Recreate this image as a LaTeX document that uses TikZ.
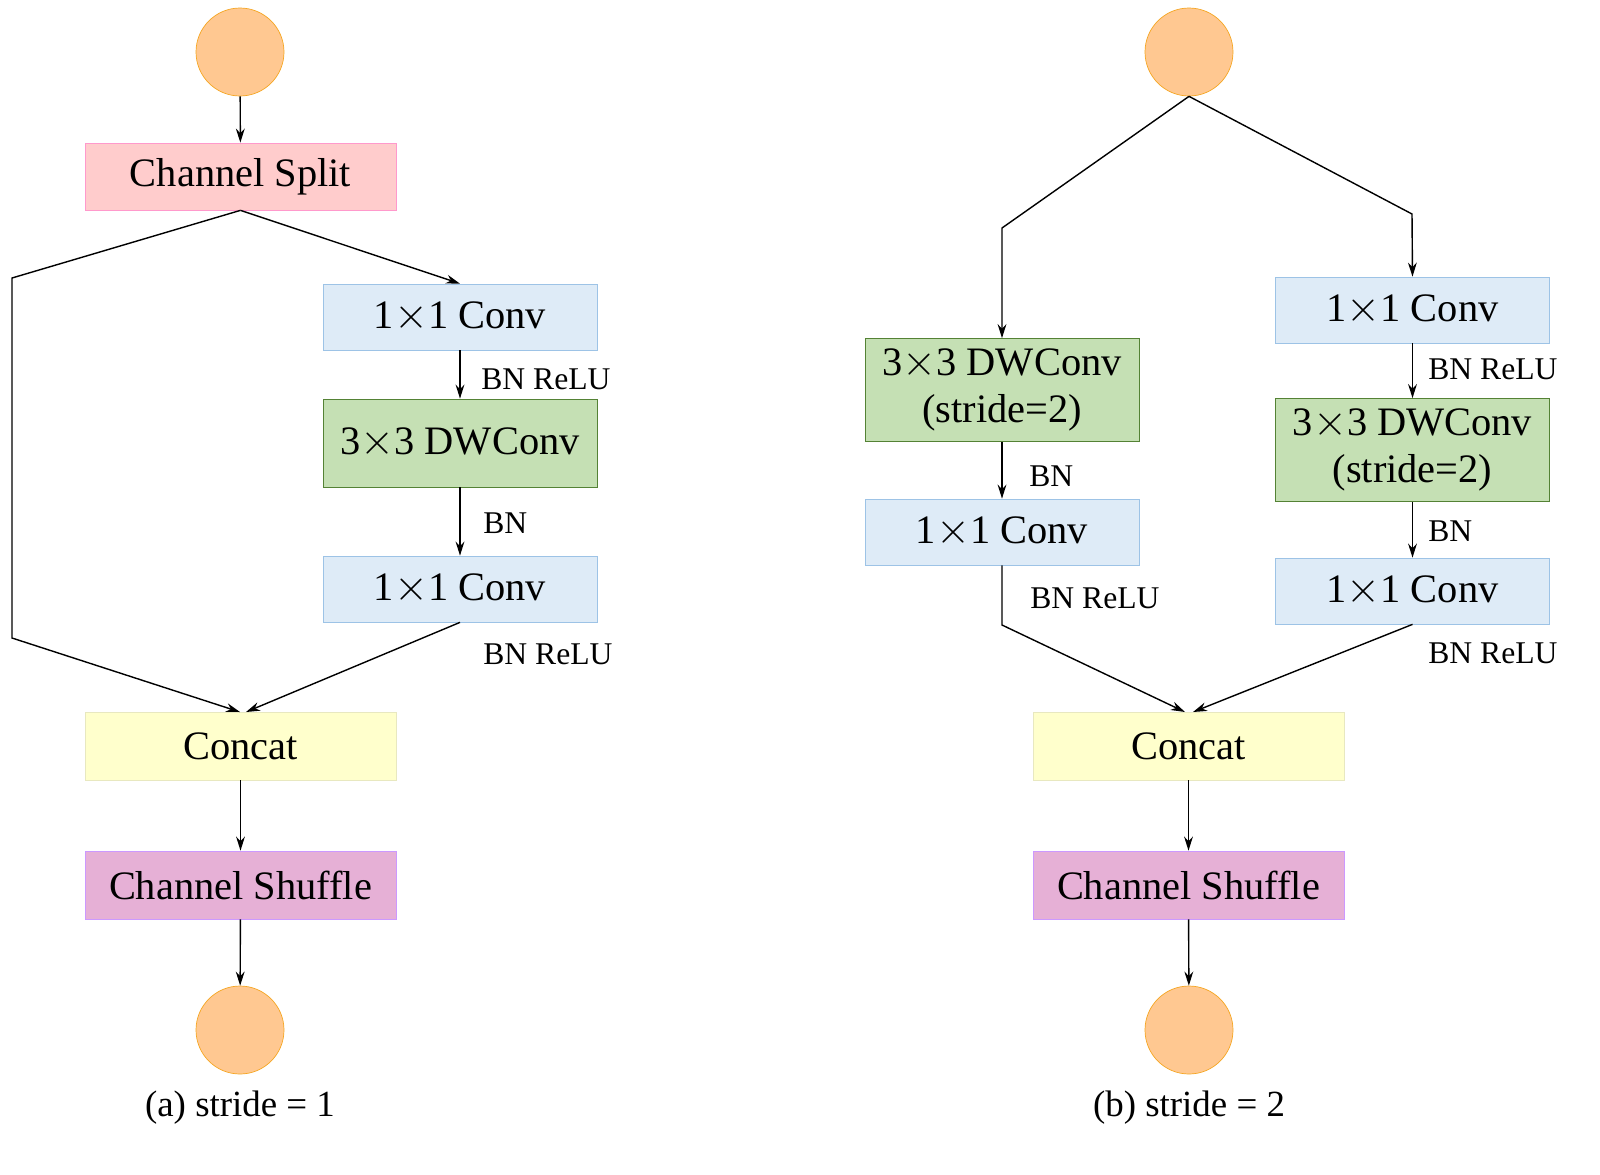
\documentclass[tikz,border=0pt]{standalone}
\usepackage{fontspec}
\setmainfont{Liberation Serif}
\usetikzlibrary{arrows.meta}
\definecolor{orf}{HTML}{FFC891}\definecolor{ord}{HTML}{F5A623}
\definecolor{pkf}{HTML}{FFCCCC}\definecolor{pkd}{HTML}{FF99CC}
\definecolor{blf}{HTML}{DEEBF7}\definecolor{bld}{HTML}{9DC3E6}
\definecolor{grf}{HTML}{C5E0B4}\definecolor{grd}{HTML}{548235}
\definecolor{ylf}{HTML}{FFFFCC}\definecolor{yld}{HTML}{E8E8C0}
\definecolor{puf}{HTML}{E6B0D6}\definecolor{pud}{HTML}{CC99FF}
\begin{document}
\begin{tikzpicture}[x=0.02cm,y=-0.02cm,
 box/.style 2 args={draw,inner sep=0,minimum width=#1*0.02cm,minimum height=#2*0.02cm,font=\fontsize{23}{27}\selectfont,align=center},
 circ/.style={circle,draw=ord,fill=orf,minimum size=88*0.02cm,inner sep=0},
 split/.style={box={311}{67},fill=pkf,draw=pkd},
 conv/.style={box={274}{66},fill=blf,draw=bld},
 dw/.style={box={274}{#1},fill=grf,draw=grd},
 cat/.style={box={311}{68},fill=ylf,draw=yld},
 shuf/.style={box={311}{68},fill=puf,draw=pud},
 lab/.style={font=\fontsize{18}{20}\selectfont,anchor=west,inner sep=0},
 captxt/.style={font=\fontsize{21}{24}\selectfont},
 ar/.style={-{Stealth[length=8pt,width=5pt]},line width=0.8pt}]
\useasboundingbox (0,0) rectangle (1600,1174);
% left
\node[circ] (ci1) at (240,52) {};
\node[split] (sp) at (240.5,176.5) {Channel Split};
\node[conv] (c1) at (460,317) {1$\times$1 Conv};
\node[dw=88] (d1) at (460,443) {3$\times$3 DWConv};
\node[conv] (c2) at (460,589) {1$\times$1 Conv};
\node[cat] (ca1) at (240.5,746) {Concat};
\node[shuf] (sh1) at (240.5,885) {Channel Shuffle};
\node[circ] (co1) at (240,1030) {};
\node[captxt] (cp1) at (240,1108) {(a) stride = 1};
\coordinate (l1) at (12,278); \coordinate (l2) at (12,638);
\coordinate (m1) at (240,712); \coordinate (m2) at (246,712);
\draw[ar] (ci1) -- (sp);
\draw[ar] (sp.south) -- (l1) -- (l2) -- (m1);
\draw[ar] (sp.south) -- (c1.north);
\draw[ar] (c1) -- (d1); \draw[ar] (d1) -- (c2);
\draw[ar] (c2.south) -- (m2);
\draw[ar] (ca1) -- (sh1); \draw[ar] (sh1) -- (co1);
\node[lab] (t1) at (481,379) {BN ReLU};
\node[lab] (t2) at (483,523) {BN};
\node[lab] (t3) at (483,654) {BN ReLU};
% right
\node[circ] (ci2) at (1189,52) {};
\node[dw=103] (d2) at (1002,390) {3$\times$3 DWConv\\(stride=2)};
\node[conv] (c3) at (1002,532) {1$\times$1 Conv};
\node[conv] (c4) at (1412.5,310) {1$\times$1 Conv};
\node[dw=103] (d3) at (1412.5,450) {3$\times$3 DWConv\\(stride=2)};
\node[conv] (c5) at (1412.5,591) {1$\times$1 Conv};
\node[cat] (ca2) at (1188.5,746) {Concat};
\node[shuf] (sh2) at (1188.5,885) {Channel Shuffle};
\node[circ] (co2) at (1189,1030) {};
\node[captxt] (cp2) at (1189,1108) {(b) stride = 2};
\coordinate (r1) at (1002,228); \coordinate (r2) at (1412,214);
\coordinate (r3) at (1002,625); \coordinate (n1) at (1185,712); \coordinate (n2) at (1193,712);
\draw[ar] (ci2.south) -- (r1) -- (d2.north);
\draw[ar] (ci2.south) -- (r2) -- (c4.north);
\draw[ar] (d2) -- (c3);
\draw[ar] (c4) -- (d3); \draw[ar] (d3) -- (c5);
\draw[ar] (c3.south) -- (r3) -- (n1);
\draw[ar] (c5.south) -- (n2);
\draw[ar] (ca2) -- (sh2); \draw[ar] (sh2) -- (co2);
\node[lab] (t4) at (1029,476) {BN};
\node[lab] (t5) at (1030,598) {BN ReLU};
\node[lab] (t6) at (1428,369) {BN ReLU};
\node[lab] (t7) at (1428,531) {BN};
\node[lab] (t8) at (1428,653) {BN ReLU};
\end{tikzpicture}
\end{document}
